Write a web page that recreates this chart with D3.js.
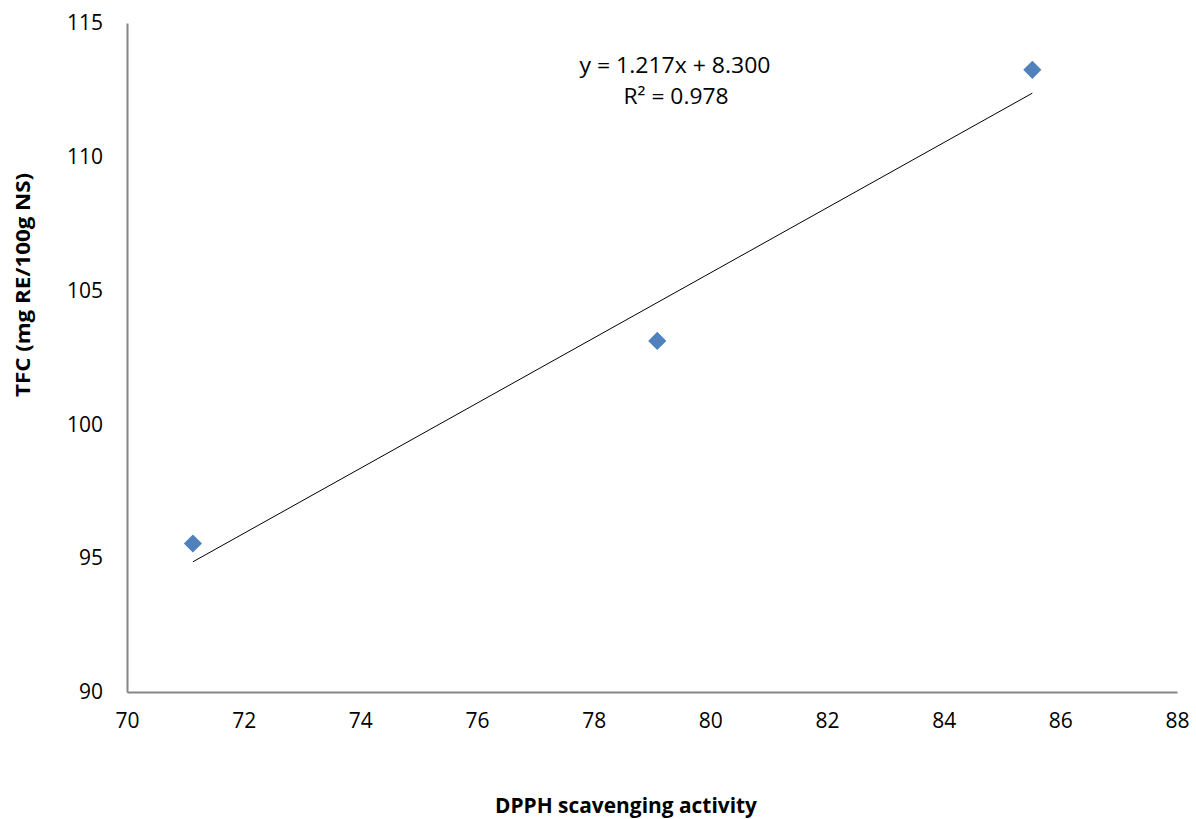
<!DOCTYPE html>
<html>
<head>
<meta charset="utf-8">
<script src="https://cdn.jsdelivr.net/npm/d3@7"></script>
<style>
  html, body { margin: 0; padding: 0; background: #fff; }
  svg { display: block; }
  text { font-family: "Open Sans", "Liberation Sans", sans-serif; fill: #000; }
</style>
</head>
<body>
<svg id="chart" width="1196" height="819"></svg>
<script>
// ---- Data ----
const dpph = [71.13, 79.09, 85.52];          // x: DPPH scavenging activity
const tfc = [95.55, 103.12, 113.25];          // y: TFC (mg RE/100g NS)
const xTicks = [70, 72, 74, 76, 78, 80, 82, 84, 86, 88];
const yTicks = [90, 95, 100, 105, 110, 115];
const trendCoef = [1.217, 8.300];             // slope, intercept
const trendLabels = ["y = 1.217x + 8.300", "R² = 0.978"];
const xTitle = "DPPH scavenging activity";
const yTitle = "TFC  (mg RE/100g NS)";

(function () {
// ---- Layout ----
const svg = d3.select("#chart");
const pLeft = 127, pRight = 1177, pTop = 23, pBottom = 692;

const x = d3.scaleLinear().domain([70, 88]).range([pLeft, pRight]);
const y = d3.scaleLinear().domain([90, 115]).range([pBottom, pTop]);

// Axes
const xAxis = d3.axisBottom(x).tickValues(xTicks).tickSize(0).tickPadding(32).tickFormat(d3.format("d"));
const yAxis = d3.axisLeft(y).tickValues(yTicks).tickSize(0).tickPadding(24).tickFormat(d3.format("d"));

const gx = svg.append("g").attr("transform", `translate(0,${pBottom})`).call(xAxis);
const gy = svg.append("g").attr("transform", `translate(${pLeft},0)`).call(yAxis);

[gx, gy].forEach(g => {
  g.select(".domain").attr("stroke", "#868686").attr("stroke-width", 2);
  g.selectAll(".tick text")
    .attr("font-family", "'Open Sans', 'Liberation Sans', sans-serif")
    .attr("font-size", 21)
    .attr("fill", "#000");
});
gx.selectAll(".tick text").attr("dy", "0.2em");

// Trendline
const xr = d3.extent(dpph);
const trend = xr.map(v => [v, trendCoef[0] * v + trendCoef[1]]);
svg.append("path")
  .datum(trend)
  .attr("d", d3.line().x(d => x(d[0])).y(d => y(d[1])))
  .attr("stroke", "#000")
  .attr("stroke-width", 1)
  .attr("fill", "none");

// Markers
const sym = d3.symbol().type(d3.symbolSquare).size(165);
svg.append("g").selectAll("path")
  .data(dpph.map((d, i) => [d, tfc[i]]))
  .join("path")
  .attr("d", sym)
  .attr("transform", d => `translate(${x(d[0])},${y(d[1])}) rotate(45)`)
  .attr("fill", "#4F81BD");

// Trendline labels
svg.append("text")
  .attr("x", 675).attr("y", 73)
  .attr("text-anchor", "middle")
  .attr("font-size", 21)
  .attr("textLength", 191).attr("lengthAdjust", "spacingAndGlyphs")
  .text(trendLabels[0]);
svg.append("text")
  .attr("x", 676).attr("y", 104)
  .attr("text-anchor", "middle")
  .attr("font-size", 21)
  .attr("textLength", 105).attr("lengthAdjust", "spacingAndGlyphs")
  .text(trendLabels[1]);

// Axis titles
svg.append("text")
  .attr("x", 626).attr("y", 813)
  .attr("text-anchor", "middle")
  .attr("font-size", 22)
  .attr("font-weight", "bold")
  .attr("textLength", 262).attr("lengthAdjust", "spacingAndGlyphs")
  .text(xTitle);

svg.append("text")
  .attr("transform", "translate(30,285) rotate(-90)")
  .attr("text-anchor", "middle")
  .attr("font-size", 20)
  .attr("font-weight", "bold")
  .attr("textLength", 224).attr("lengthAdjust", "spacingAndGlyphs")
  .text(yTitle);
})();
</script>
</body>
</html>
